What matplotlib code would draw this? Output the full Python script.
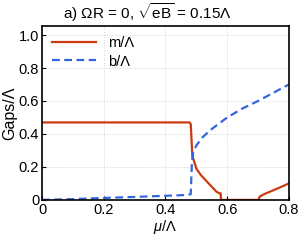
import matplotlib
matplotlib.use('Agg')
import matplotlib.pyplot as plt

# chemical potential grid and gaps
mu_m = [0, 0.478, 0.482, 0.487, 0.50, 0.515, 0.53, 0.55, 0.565, 0.575, 0.579, 0.58,
        0.70, 0.702, 0.705, 0.72, 0.745, 0.77, 0.8]
m = [0.47, 0.47, 0.46, 0.27, 0.19, 0.15, 0.12, 0.08, 0.05, 0.04, 0.04, 0.0,
     0.0, 0.0, 0.02, 0.035, 0.055, 0.075, 0.10]

mu_b = [0, 0.1, 0.2, 0.3, 0.4, 0.47, 0.482, 0.486, 0.49, 0.50, 0.52, 0.55,
        0.6, 0.65, 0.7, 0.75, 0.8]
b = [0.0, 0.005, 0.012, 0.018, 0.025, 0.03, 0.035, 0.24, 0.29, 0.33, 0.38, 0.43,
     0.50, 0.555, 0.60, 0.65, 0.70]

xticks = [0, 0.2, 0.4, 0.6, 0.8]
xlabels = ['0', '0.2', '0.4', '0.6', '0.8']
yticks = [0, 0.2, 0.4, 0.6, 0.8, 1.0]
ylabels = ['0', '0.2', '0.4', '0.6', '0.8', '1.0']

plt.rcParams['font.family'] = ['Liberation Sans', 'DejaVu Sans']
plt.rcParams['mathtext.fontset'] = 'custom'
plt.rcParams['mathtext.rm'] = 'Liberation Sans'
plt.rcParams['mathtext.it'] = 'Liberation Sans:italic'

fig = plt.figure(figsize=(3.0, 2.45), dpi=100)
ax = fig.add_axes([0.14, 0.184, 0.823, 0.71])

ax.plot(mu_m, m, color='#cc3a10', lw=1.6, label='m/Λ')
ax.plot(mu_b, b, color='#3366dd', lw=1.6, ls=(0, (3.5, 2)), label='b/Λ')

ax.set_xlim(0, 0.8)
ax.set_ylim(0, 1.055)
ax.set_xticks(xticks)
ax.set_xticklabels(xlabels)
ax.set_yticks(yticks)
ax.set_yticklabels(ylabels)
ax.tick_params(direction='in', labelsize=10.5, length=3, width=0.8, pad=2)
ax.grid(True, color='#d4d4d4', ls=':', lw=0.7)
for s in ax.spines.values():
    s.set_linewidth(1.2)

ax.set_xlabel(r'$\mathit{\mu}$/Λ', fontsize=10.5, labelpad=1)
ax.set_ylabel('Gaps/Λ', fontsize=11.5, labelpad=1)
# title placed by its left edge
fig.text(0.21, 0.922, r'a) $\Omega$R = 0, $\sqrt{\mathrm{eB}}$ = 0.15Λ', fontsize=11,
         ha='left', va='baseline')

ax.legend(loc='upper left', frameon=False, fontsize=10.5, handlelength=3.0,
          borderaxespad=0.3, labelspacing=0.3)

fig.savefig('out.png', dpi=100)
